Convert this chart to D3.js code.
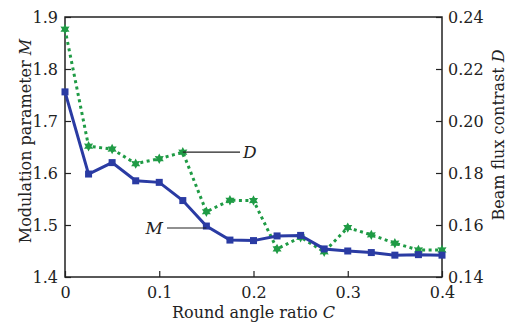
<!DOCTYPE html>
<html>
<head>
<meta charset="utf-8">
<script src="https://cdn.jsdelivr.net/npm/d3@7/dist/d3.min.js"></script>
<style>
body { margin: 0; background: #fff; }
text { font-family: "DejaVu Serif", serif; fill: #222; }
</style>
</head>
<body>
<svg id="chart" width="508" height="327"></svg>
<script>
// data
var ratioC = [0, 0.025, 0.05, 0.075, 0.1, 0.125, 0.15, 0.175, 0.2, 0.225, 0.25, 0.275, 0.3, 0.325, 0.35, 0.375, 0.4];
var modM = [1.756, 1.598, 1.620, 1.585, 1.582, 1.547, 1.498, 1.471, 1.470, 1.479, 1.480, 1.454, 1.450, 1.447, 1.442, 1.443, 1.442];
var contrastD = [0.2353, 0.1903, 0.1892, 0.1836, 0.1855, 0.1880, 0.1651, 0.1695, 0.1694, 0.1508, 0.1553, 0.1497, 0.1590, 0.1562, 0.1530, 0.1504, 0.1504];
var xTicks = [0, 0.1, 0.2, 0.3, 0.4];
var mTicks = [1.4, 1.5, 1.6, 1.7, 1.8, 1.9];
var dTicks = [0.14, 0.16, 0.18, 0.20, 0.22, 0.24];

var plotL = 65, plotR = 442, plotT = 17, plotB = 277;
var blue = "#2a3ba3", green = "#1f9b45";

var svg = d3.select("#chart");
var x = d3.scaleLinear().domain([0, 0.4]).range([plotL, plotR]);
var yM = d3.scaleLinear().domain([1.4, 1.9]).range([plotB, plotT]);
var yD = d3.scaleLinear().domain([0.14, 0.24]).range([plotB, plotT]);

// frame
svg.append("rect").attr("x", plotL).attr("y", plotT)
  .attr("width", plotR - plotL).attr("height", plotB - plotT)
  .attr("fill", "none").attr("stroke", "#222").attr("stroke-width", 1.5);

function styleAxis(g) {
  g.select(".domain").remove();
  g.selectAll("line").attr("stroke", "#222").attr("stroke-width", 1.2);
  g.selectAll("text").attr("font-size", 16).attr("fill", "#222")
    .style("font-family", "DejaVu Serif, serif");
}

svg.append("g").attr("transform", "translate(0," + plotB + ")")
  .call(d3.axisBottom(x).tickValues(xTicks).tickFormat(d3.format("~g"))
    .tickSizeInner(-6).tickSizeOuter(0).tickPadding(10))
  .call(styleAxis);

svg.append("g").attr("transform", "translate(" + plotL + ",0)")
  .call(d3.axisLeft(yM).tickValues(mTicks).tickFormat(d3.format(".1f"))
    .tickSizeInner(-6).tickSizeOuter(0).tickPadding(7))
  .call(styleAxis);

svg.append("g").attr("transform", "translate(" + plotR + ",0)")
  .call(d3.axisRight(yD).tickValues(dTicks).tickFormat(d3.format(".2f"))
    .tickSizeInner(-6).tickSizeOuter(0).tickPadding(6))
  .call(styleAxis);

// axis titles
var xt = svg.append("text").attr("x", (plotL + plotR) / 2).attr("y", 318)
  .attr("text-anchor", "middle").attr("font-size", 16);
xt.append("tspan").text("Round angle ratio ");
xt.append("tspan").attr("font-style", "italic").text("C");

var lt = svg.append("text").attr("transform", "translate(31,141) rotate(-90)")
  .attr("text-anchor", "middle").attr("font-size", 16);
lt.append("tspan").text("Modulation parameter ");
lt.append("tspan").attr("font-style", "italic").text("M");

var rt = svg.append("text").attr("transform", "translate(504,135) rotate(-90)")
  .attr("text-anchor", "middle").attr("font-size", 16);
rt.append("tspan").text("Beam flux contrast ");
rt.append("tspan").attr("font-style", "italic").text("D");

// six-pointed star marker
var hexStar = {
  draw: function(ctx, size) {
    var ro = Math.sqrt(size / 2.2), ri = ro * 0.55;
    for (var k = 0; k < 12; k++) {
      var a = Math.PI / 6 * k - Math.PI / 2, r = k % 2 ? ri : ro;
      if (k === 0) ctx.moveTo(r * Math.cos(a), r * Math.sin(a));
      else ctx.lineTo(r * Math.cos(a), r * Math.sin(a));
    }
    ctx.closePath();
  }
};

// D series
var lineD = d3.line().x(function(d, i) { return x(ratioC[i]); }).y(function(d) { return yD(d); });
svg.append("path").datum(contrastD).attr("d", lineD)
  .attr("fill", "none").attr("stroke", green).attr("stroke-width", 3)
  .attr("stroke-dasharray", "3,3.5");
svg.append("g").selectAll("path").data(contrastD).join("path")
  .attr("d", d3.symbol().type(hexStar).size(60))
  .attr("transform", function(d, i) { return "translate(" + x(ratioC[i]) + "," + yD(d) + ")"; })
  .attr("fill", green);

// M series
var lineM = d3.line().x(function(d, i) { return x(ratioC[i]); }).y(function(d) { return yM(d); });
svg.append("path").datum(modM).attr("d", lineM)
  .attr("fill", "none").attr("stroke", blue).attr("stroke-width", 3);
svg.append("g").selectAll("rect").data(modM).join("rect")
  .attr("x", function(d, i) { return x(ratioC[i]) - 3.5; })
  .attr("y", function(d) { return yM(d) - 3.5; })
  .attr("width", 7).attr("height", 7).attr("fill", blue);

// callouts
svg.append("line").attr("x1", x(0.125)).attr("y1", yD(contrastD[5]))
  .attr("x2", 240).attr("y2", yD(contrastD[5]))
  .attr("stroke", "#222").attr("stroke-width", 1.2);
svg.append("text").attr("x", 243).attr("y", yD(contrastD[5]) + 6)
  .attr("font-size", 17).attr("font-style", "italic").text("D");

svg.append("line").attr("x1", 167).attr("y1", 228)
  .attr("x2", x(0.15)).attr("y2", 228)
  .attr("stroke", "#222").attr("stroke-width", 1.2);
svg.append("text").attr("x", 163).attr("y", 234).attr("text-anchor", "end")
  .attr("font-size", 17).attr("font-style", "italic").text("M");
</script>
</body>
</html>
